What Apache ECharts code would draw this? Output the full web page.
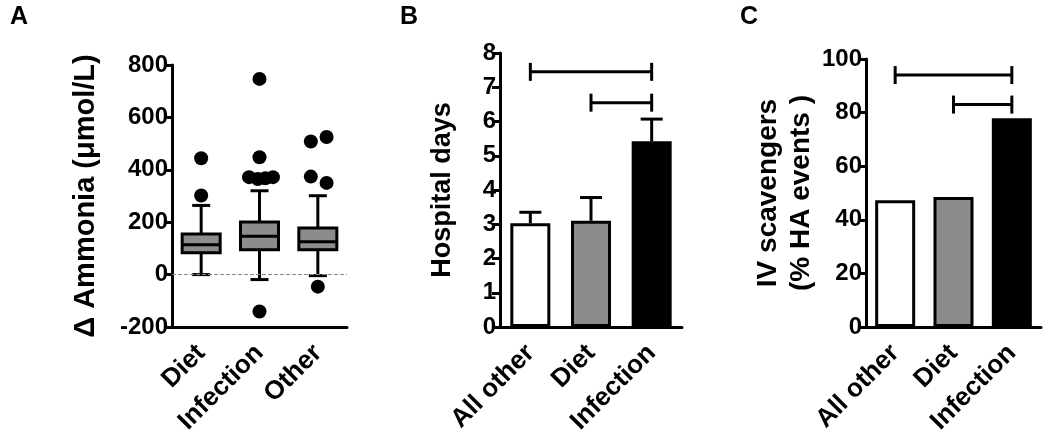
<!DOCTYPE html>
<html>
<head>
<meta charset="utf-8">
<script src="https://cdn.jsdelivr.net/npm/echarts@6/dist/echarts.min.js"></script>
<style>
  html, body { margin: 0; padding: 0; background: #fff; }
  #chart { width: 1050px; height: 448px; }
</style>
</head>
<body>
<div id="chart"></div>
<script>
// panel A: change in ammonia, box plots
const groupsA = ['Diet', 'Infection', 'Other']
// [low whisker, Q1, median, Q3, high whisker]
const boxStats = [
  [0, 83, 114, 155, 264],
  [-19, 95, 146, 201, 320],
  [-4, 95, 125, 178, 301]
]
// outliers: [category position (index + 0.5 = centre), value]
const outliers = [
  [0.5, 444], [0.5, 302],
  [1.5, 747], [1.5, 448], [1.32, 372], [1.47, 365], [1.6, 368], [1.73, 372], [1.5, -141],
  [2.38, 508], [2.65, 525], [2.38, 374], [2.65, 350], [2.5, -46]
]

// panel B: hospital days, mean + error
const groupsBC = ['All other', 'Diet', 'Infection']
const hospitalDays = [3.03, 3.1, 5.42]
const hospitalDaysErr = [3.35, 3.78, 6.07]
const bracketsB = [[0, 2, 7.45], [1, 2, 6.55]]

// panel C: IV scavengers (% HA events)
const ivScavengers = [47.3, 48.5, 77.9]
const bracketsC = [[0, 2, 94], [1, 2, 83]]

const barColors = ['#ffffff', '#8c8c8c', '#000000']
const FONT = "'Liberation Sans', Arial, sans-serif"

const chartDom = document.getElementById('chart')
const myChart = echarts.init(chartDom)

const yAxisBase = (extra) => Object.assign({
  type: 'value',
  splitLine: { show: false },
  axisLine: { show: true, lineStyle: { color: '#000', width: 3 } },
  axisTick: { show: true, length: 8, lineStyle: { color: '#000', width: 3 } },
  axisLabel: { color: '#000', fontSize: 24, fontWeight: 'bold', fontFamily: FONT, margin: 4 },
  nameLocation: 'middle',
  nameRotate: 90,
  nameTextStyle: { color: '#000', fontSize: 27, fontWeight: 'bold', fontFamily: FONT }
}, extra)

const xAxisBase = (extra) => Object.assign({
  type: 'category',
  axisLine: { onZero: false, lineStyle: { color: '#000', width: 3 } },
  axisTick: { alignWithLabel: true, length: 8, lineStyle: { color: '#000', width: 3 } },
  axisLabel: { color: '#000', fontSize: 26, fontWeight: 'bold', fontFamily: FONT, rotate: 45, margin: 22, interval: 0 }
}, extra)

// box + whiskers with short caps
const renderBox = (params, api) => {
  const x = api.value(0)
  const lo = api.coord([x, api.value(1)])
  const q1 = api.coord([x, api.value(2)])
  const md = api.coord([x, api.value(3)])
  const q3 = api.coord([x, api.value(4)])
  const hi = api.coord([x, api.value(5)])
  const cx = lo[0]
  const bw = 38, cw = 18
  const st = { stroke: '#000', lineWidth: 3 }
  return {
    type: 'group',
    children: [
      { type: 'line', shape: { x1: cx, y1: hi[1], x2: cx, y2: q3[1] }, style: st },
      { type: 'line', shape: { x1: cx, y1: q1[1], x2: cx, y2: lo[1] }, style: st },
      { type: 'line', shape: { x1: cx - cw / 2, y1: hi[1], x2: cx + cw / 2, y2: hi[1] }, style: st },
      { type: 'line', shape: { x1: cx - cw / 2, y1: lo[1], x2: cx + cw / 2, y2: lo[1] }, style: st },
      { type: 'rect', shape: { x: cx - bw / 2, y: q3[1], width: bw, height: q1[1] - q3[1] },
        style: { fill: '#8c8c8c', stroke: '#000', lineWidth: 3 } },
      { type: 'line', shape: { x1: cx - bw / 2, y1: md[1], x2: cx + bw / 2, y2: md[1] }, style: st }
    ]
  }
}

// upper error bar only
const renderErr = (params, api) => {
  const x = api.value(0)
  const a = api.coord([x, api.value(1)])
  const b = api.coord([x, api.value(2)])
  const cw = 22
  const st = { stroke: '#000', lineWidth: 3 }
  return {
    type: 'group',
    children: [
      { type: 'line', shape: { x1: a[0], y1: a[1], x2: b[0], y2: b[1] }, style: st },
      { type: 'line', shape: { x1: b[0] - cw / 2, y1: b[1], x2: b[0] + cw / 2, y2: b[1] }, style: st }
    ]
  }
}

// significance bracket between two groups
const renderBracket = (params, api) => {
  const p1 = api.coord([api.value(0), api.value(2)])
  const p2 = api.coord([api.value(1), api.value(2)])
  const h = 9
  const st = { stroke: '#000', lineWidth: 3 }
  return {
    type: 'group',
    children: [
      { type: 'line', shape: { x1: p1[0], y1: p1[1], x2: p2[0], y2: p2[1] }, style: st },
      { type: 'line', shape: { x1: p1[0], y1: p1[1] - h, x2: p1[0], y2: p1[1] + h }, style: st },
      { type: 'line', shape: { x1: p2[0], y1: p2[1] - h, x2: p2[0], y2: p2[1] + h }, style: st }
    ]
  }
}

const barItems = (vals) => vals.map((v, i) => ({
  value: v,
  itemStyle: { color: barColors[i], borderColor: '#000', borderWidth: 3 }
}))

const letter = (txt, left, top) => ({
  type: 'text', left: left, top: top,
  style: { text: txt, fill: '#000', font: 'bold 25px ' + FONT }
})

const option = {
  animation: false,
  grid: [
    { left: 172, top: 65, width: 175, height: 262 },
    { left: 500, top: 53, width: 182, height: 274 },
    { left: 866, top: 59, width: 175, height: 268 }
  ],
  xAxis: [
    xAxisBase({ gridIndex: 0, data: groupsA }),
    { type: 'value', gridIndex: 0, min: 0, max: 3, show: false },
    xAxisBase({ gridIndex: 1, data: groupsBC }),
    xAxisBase({ gridIndex: 2, data: groupsBC })
  ],
  yAxis: [
    yAxisBase({ gridIndex: 0, min: -200, max: 800, interval: 200,
      name: 'Δ Ammonia (μmol/L)', nameGap: 72,
      nameTextStyle: { color: '#000', fontSize: 29, fontWeight: 'bold', fontFamily: FONT } }),
    yAxisBase({ gridIndex: 1, min: 0, max: 8, interval: 1, name: 'Hospital days', nameGap: 44 }),
    yAxisBase({ gridIndex: 2, min: 0, max: 100, interval: 20,
      name: 'IV scavengers\n(% HA events )', nameGap: 42,
      nameTextStyle: { color: '#000', fontSize: 28, fontWeight: 'bold', fontFamily: FONT, lineHeight: 33 } })
  ],
  graphic: [letter('A', 10, 5), letter('B', 400, 5), letter('C', 740, 5)],
  series: [
    {
      type: 'custom', xAxisIndex: 0, yAxisIndex: 0,
      renderItem: renderBox,
      data: boxStats.map((s, i) => [i].concat(s)),
      z: 3,
      markLine: {
        silent: true, symbol: 'none', label: { show: false },
        lineStyle: { type: 'dashed', color: '#888', width: 1 },
        data: [{ yAxis: 0 }]
      }
    },
    {
      type: 'scatter', xAxisIndex: 1, yAxisIndex: 0,
      symbolSize: 14, itemStyle: { color: '#000', opacity: 1 },
      data: outliers, z: 4
    },
    {
      type: 'bar', xAxisIndex: 2, yAxisIndex: 1, barWidth: 40,
      data: barItems(hospitalDays), z: 3
    },
    {
      type: 'custom', xAxisIndex: 2, yAxisIndex: 1,
      renderItem: renderErr,
      data: hospitalDays.map((v, i) => [i, v, hospitalDaysErr[i]]), z: 2
    },
    {
      type: 'custom', xAxisIndex: 2, yAxisIndex: 1,
      renderItem: renderBracket, data: bracketsB
    },
    {
      type: 'bar', xAxisIndex: 3, yAxisIndex: 2, barWidth: 40,
      data: barItems(ivScavengers), z: 3
    },
    {
      type: 'custom', xAxisIndex: 3, yAxisIndex: 2,
      renderItem: renderBracket, data: bracketsC
    }
  ]
}
myChart.setOption(option)
</script>
</body>
</html>
